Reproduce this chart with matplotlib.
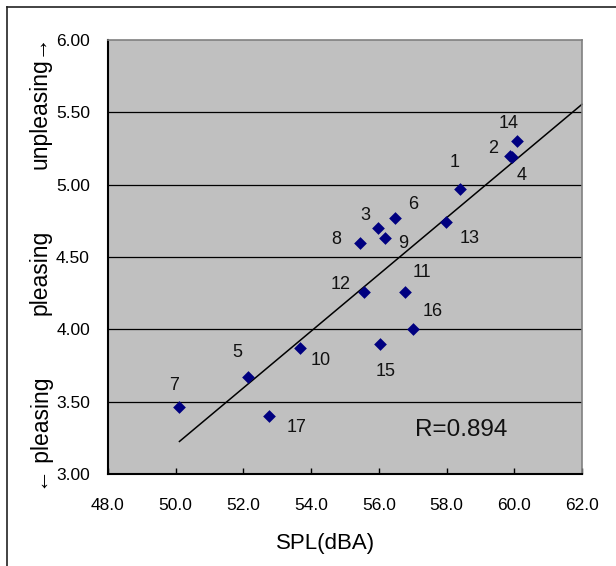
import numpy as np
import matplotlib.pyplot as plt
from matplotlib.lines import Line2D

# 騒音レベルと不快感評価
labels = ["1", "2", "3", "4", "5", "6", "7", "8", "9", "10",
          "11", "12", "13", "14", "15", "16", "17"]
spl = np.array([58.40, 59.86, 55.98, 59.93, 52.14, 56.49, 50.11, 55.43, 56.18,
                53.68, 56.77, 55.57, 57.98, 60.08, 56.03, 57.01, 52.75])
score = np.array([4.97, 5.20, 4.70, 5.19, 3.67, 4.77, 3.46, 4.60, 4.63,
                  3.87, 4.26, 4.26, 4.74, 5.30, 3.90, 4.00, 3.40])
r_text = "R=0.894"

# ラベルの位置 (points)
offsets = {"1": (-4, 19), "2": (-12, 5), "3": (-9, 9), "4": (7, -13),
           "5": (-8, 18), "6": (13, 10), "7": (-4, 16), "8": (-17, 2),
           "9": (13, -4), "10": (15, -9), "11": (12, 14), "12": (-17, 5),
           "13": (17, -12), "14": (-6, 13), "15": (4, -20), "16": (14, 13),
           "17": (20, -8)}

sans = ["Liberation Sans", "DejaVu Sans"]

fig = plt.figure(figsize=(6.16, 5.66), dpi=100)
ax = fig.add_axes([108 / 616, 92 / 566, 474 / 616, 434 / 566])
ax.set_facecolor("#C0C0C0")

ax.set_xlim(48, 62)
ax.set_ylim(3, 6)
ax.set_xticks(np.arange(48, 62.1, 2))
ax.set_yticks(np.arange(3, 6.01, 0.5))
ax.set_xticklabels(["{:.1f}".format(v) for v in np.arange(48, 62.1, 2)],
                   family=sans, fontsize=12.5)
ax.set_yticklabels(["{:.2f}".format(v) for v in np.arange(3, 6.01, 0.5)],
                   family=sans, fontsize=12.5)
ax.tick_params(axis="x", direction="in", length=4, width=1, pad=17)
ax.tick_params(axis="y", direction="in", length=0, pad=13)

for yv in np.arange(3.5, 5.51, 0.5):
    ax.axhline(yv, color="black", lw=0.9, zorder=1)

ax.spines["left"].set_color("black")
ax.spines["bottom"].set_color("black")
ax.spines["left"].set_linewidth(1.5)
ax.spines["bottom"].set_linewidth(1.5)
ax.spines["top"].set_color("#808080")
ax.spines["right"].set_color("#808080")
ax.spines["top"].set_linewidth(1.2)
ax.spines["right"].set_linewidth(1.2)

# 回帰直線
a, b = np.polyfit(spl, score, 1)
x = np.linspace(spl.min(), ax.get_xlim()[1], 20)
ax.plot(x, a * x + b, color="black", lw=1.1, zorder=2, clip_on=False)

ax.scatter(spl, score, marker="D", s=42, color="#000080", zorder=3, linewidths=0)

for lab, xv, yv in zip(labels, spl, score):
    ax.annotate(lab, (xv, yv), xytext=offsets[lab], textcoords="offset points",
                ha="center", va="center", family=sans, fontsize=13, color="#111111")

ax.text(0.648, 0.101, r_text, transform=ax.transAxes, ha="left", va="center",
        family=sans, fontsize=17.5, color="#111111")

# 軸ラベル
fig.text(326 / 616, 1 - 543 / 566, "SPL(dBA)", ha="center", va="center",
         family=sans, fontsize=16)
fig.text(40 / 616, 1 - 102 / 566, "unpleasing\u2192", rotation=90, ha="center",
         va="center", family=sans, fontsize=16.5)
fig.text(40 / 616, 1 - 272 / 566, "pleasing", rotation=90, ha="center",
         va="center", family=sans, fontsize=16.5)
fig.text(42 / 616, 1 - 435 / 566, "\u2190 pleasing", rotation=90, ha="center",
         va="center", family=sans, fontsize=16.5)

# 外枠
fig.add_artist(Line2D([7 / 616, 7 / 616], [0, 1 - 7 / 566], color="#222222", lw=1.2))
fig.add_artist(Line2D([7 / 616, 1], [1 - 7 / 566, 1 - 7 / 566], color="#222222", lw=1.2))

plt.savefig("out.png", dpi=100)
